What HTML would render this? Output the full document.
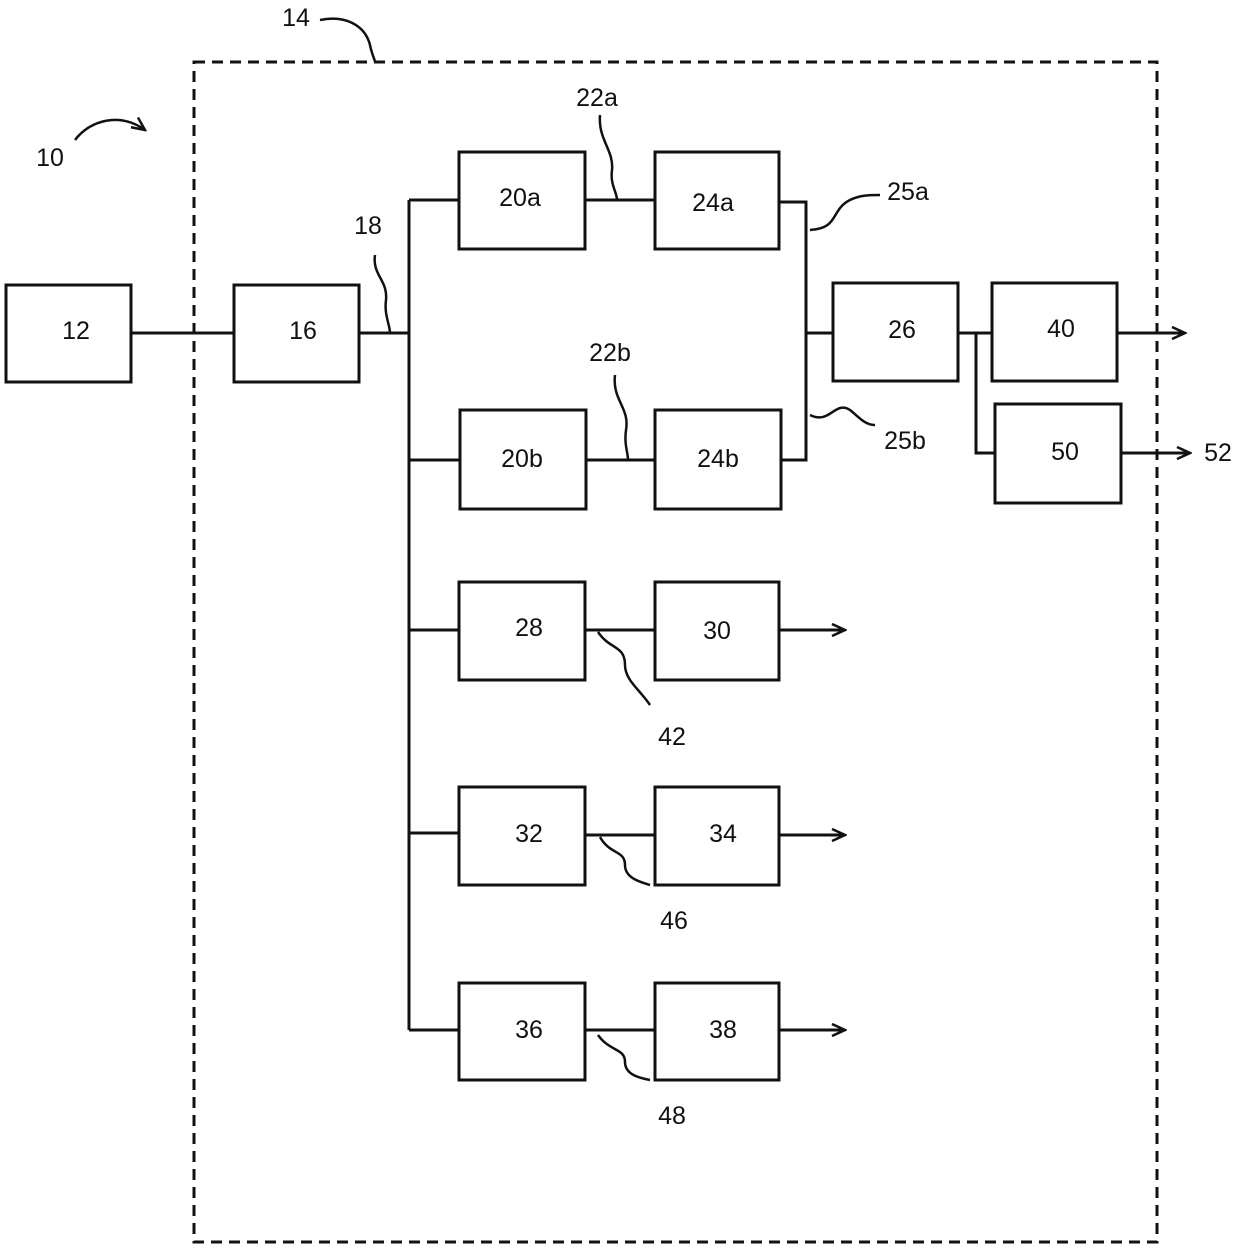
<!DOCTYPE html>
<html><head><meta charset="utf-8"><style>
html,body{margin:0;padding:0;background:#fff;}
svg{display:block;}
text{font-family:"Liberation Sans",sans-serif;font-size:25px;fill:#111;text-anchor:middle;dominant-baseline:central;}
</style></head><body>
<svg width="1240" height="1249" viewBox="0 0 1240 1249">
<defs><marker id="ar" markerWidth="16" markerHeight="14" refX="14" refY="7" orient="auto" markerUnits="userSpaceOnUse"><path d="M1,1 L14,7 L1,13" fill="none" stroke="#111" stroke-width="2.5"/></marker></defs>
<rect x="194" y="62" width="963" height="1180" fill="none" stroke="#111" stroke-width="3" stroke-dasharray="11,7"/>
<g fill="none" stroke="#111" stroke-width="3">
<rect x="6" y="285" width="125" height="97"/>
<rect x="234" y="285" width="125" height="97"/>
<rect x="459" y="152" width="126" height="97"/>
<rect x="655" y="152" width="124" height="97"/>
<rect x="460" y="410" width="126" height="99"/>
<rect x="655" y="410" width="126" height="99"/>
<rect x="833" y="283" width="125" height="98"/>
<rect x="992" y="283" width="125" height="98"/>
<rect x="995" y="404" width="126" height="99"/>
<rect x="459" y="582" width="126" height="98"/>
<rect x="655" y="582" width="124" height="98"/>
<rect x="459" y="787" width="126" height="98"/>
<rect x="655" y="787" width="124" height="98"/>
<rect x="459" y="983" width="126" height="97"/>
<rect x="655" y="983" width="124" height="97"/>
<path d="M131,333H234 M359,333H409 M409,200V1030 M409,200H459 M409,460H460 M409,630H459 M409,833H459 M409,1030H459"/>
<path d="M585,200H655 M586,460H655 M585,630H655 M585,835H655 M585,1030H655"/>
<path d="M779,202H806V460H781 M806,333H833"/>
<path d="M958,333H992 M976,333V453H995"/>
</g>
<g fill="none" stroke="#111" stroke-width="3" marker-end="url(#ar)">
<path d="M1117,333H1185"/><path d="M1121,453H1190"/>
<path d="M779,630H845"/><path d="M779,835H845"/><path d="M779,1030H845"/>
</g>
<g fill="none" stroke="#111" stroke-width="2.5">
<path d="M375,255 C372,275 388,280 386,300 C384,315 390,325 390,333"/>
<path d="M600,115 C598,140 614,150 612,170 C610,185 617,192 617,200"/>
<path d="M615,375 C612,400 630,408 626,430 C624,445 628,452 628,460"/>
<path d="M810,230 C840,228 830,210 850,200 C860,195 870,195 880,195"/>
<path d="M810,415 C830,425 835,400 850,410 C860,418 865,425 875,425"/>
<path d="M598,632 C610,650 625,645 625,665 C625,680 640,690 650,705"/>
<path d="M600,837 C610,855 625,850 625,865 C625,878 640,882 650,885"/>
<path d="M598,1035 C610,1052 625,1048 625,1062 C625,1075 640,1078 650,1080"/>
<path d="M320,20 C345,15 365,25 370,45 C372,55 375,60 375,62"/>
<path d="M75,140 C90,120 120,112 145,130" marker-end="url(#ar)"/>
</g>
<text x="76" y="331">12</text><text x="303" y="331">16</text>
<text x="520" y="198">20a</text><text x="713" y="203">24a</text>
<text x="522" y="459">20b</text><text x="718" y="459">24b</text>
<text x="902" y="330">26</text><text x="1061" y="329">40</text><text x="1065" y="452">50</text>
<text x="529" y="628">28</text><text x="717" y="631">30</text>
<text x="529" y="834">32</text><text x="723" y="834">34</text>
<text x="529" y="1030">36</text><text x="723" y="1030">38</text>
<text x="50" y="158">10</text><text x="296" y="18">14</text><text x="368" y="226">18</text>
<text x="597" y="98">22a</text><text x="610" y="353">22b</text>
<text x="908" y="192">25a</text><text x="905" y="441">25b</text>
<text x="672" y="737">42</text><text x="674" y="921">46</text><text x="672" y="1116">48</text>
<text x="1218" y="453">52</text>
</svg>
</body></html>
